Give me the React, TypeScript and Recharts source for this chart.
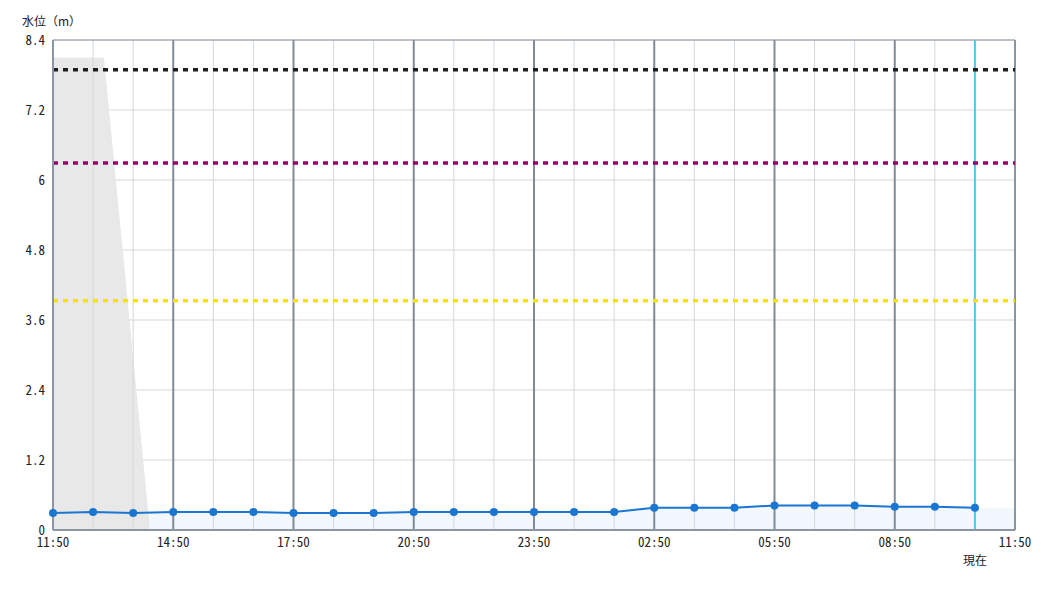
import React from "react";
import {
  ComposedChart,
  Line,
  Area,
  XAxis,
  YAxis,
  CartesianGrid,
  ReferenceLine,
} from "recharts";

// hours since 11:50
const hours = [0, 1, 2, 3, 4, 5, 6, 7, 8, 9, 10, 11, 12, 13, 14, 15, 16, 17, 18, 19, 20, 21, 22, 23];
const levels = [
  0.29, 0.31, 0.29, 0.31, 0.31, 0.31, 0.29, 0.29, 0.29, 0.31, 0.31, 0.31,
  0.31, 0.31, 0.31, 0.38, 0.38, 0.38, 0.42, 0.42, 0.42, 0.4, 0.4, 0.38,
];

const xTicks = [0, 3, 6, 9, 12, 15, 18, 21, 24];
const xLabels = ["11:50", "14:50", "17:50", "20:50", "23:50", "02:50", "05:50", "08:50", "11:50"];
const yTicks = [0, 1.2, 2.4, 3.6, 4.8, 6, 7.2, 8.4];

// grey shaded block at the left
const shadeX = [0, 1.27, 2.42];
const shadeY = [8.1, 8.1, 0];

// threshold lines
const thresholds = [7.89, 6.29, 3.93];
const thresholdColors = ["#1e1e1e", "#990066", "#f5e400"];

const nowHour = 23;
const endHour = 24;

const lineData = hours.map((h, i) => ({ h, v: levels[i] }));
const fillData = [...lineData, { h: endHour, v: levels[levels.length - 1] }];
const shadeData = shadeX.map((h, i) => ({ h, s: shadeY[i] }));

const mono = "'Noto Sans Mono CJK JP', 'DejaVu Sans Mono', monospace";
const cjk = "'Noto Sans CJK JP', sans-serif";
const frame = "#8a96a2";

export default function App() {
  return (
    <div style={{ position: "relative", width: 1040, height: 580 }}>
      <div
        style={{
          position: "absolute",
          left: 14,
          top: 4,
          fontFamily: cjk,
          fontSize: 12,
          color: "#222",
        }}
      >
        水位（m）
      </div>
      <ComposedChart
        width={1040}
        height={580}
        data={lineData}
        margin={{ top: 32, right: 33, bottom: 28, left: 0 }}
      >
        <XAxis
          type="number"
          dataKey="h"
          domain={[0, endHour]}
          ticks={xTicks}
          tickFormatter={(v) => xLabels[xTicks.indexOf(v)] ?? ""}
          tickLine={false}
          axisLine={{ stroke: frame, strokeWidth: 2 }}
          tick={{ fontFamily: mono, fontSize: 13, fill: "#222" }}
          height={30}
          interval={0}
        />
        <YAxis
          type="number"
          domain={[0, 8.4]}
          ticks={yTicks}
          tickLine={false}
          axisLine={{ stroke: frame, strokeWidth: 2 }}
          tick={{ fontFamily: mono, fontSize: 13, fill: "#222" }}
          width={45}
          interval={0}
        />
        <Area
          data={fillData}
          dataKey="v"
          type="linear"
          stroke="none"
          fill="#f2f8fe"
          fillOpacity={1}
          isAnimationActive={false}
        />
        <Area
          data={shadeData}
          dataKey="s"
          type="linear"
          stroke="none"
          fill="#e8e8e8"
          fillOpacity={1}
          isAnimationActive={false}
        />
        <CartesianGrid vertical={false} stroke="#d3d7db" strokeWidth={1} />
        {hours.map((h) =>
          xTicks.includes(h) ? null : (
            <ReferenceLine key={"m" + h} x={h} stroke="#d3d7db" strokeWidth={1} />
          )
        )}
        {xTicks.slice(1, -1).map((h) => (
          <ReferenceLine key={"M" + h} x={h} stroke="#7f8b97" strokeWidth={2} />
        ))}
        <ReferenceLine y={8.4} stroke={frame} strokeWidth={1} />
        <ReferenceLine x={endHour} stroke={frame} strokeWidth={2} />
        <ReferenceLine
          x={nowHour}
          stroke="#55c4f6"
          strokeWidth={2}
          label={{
            value: "現在",
            position: "bottom",
            offset: 26,
            fontFamily: cjk,
            fontSize: 12,
            fill: "#222",
          }}
        />
        {thresholds.map((t, i) => (
          <ReferenceLine
            key={"t" + i}
            y={t}
            stroke={thresholdColors[i]}
            strokeWidth={3.5}
            strokeDasharray="5 5"
          />
        ))}
        <Line
          dataKey="v"
          type="linear"
          stroke="#1a76d1"
          strokeWidth={2}
          dot={{ r: 4, fill: "#1a76d1", stroke: "none" }}
          activeDot={false}
          isAnimationActive={false}
        />
      </ComposedChart>
    </div>
  );
}
